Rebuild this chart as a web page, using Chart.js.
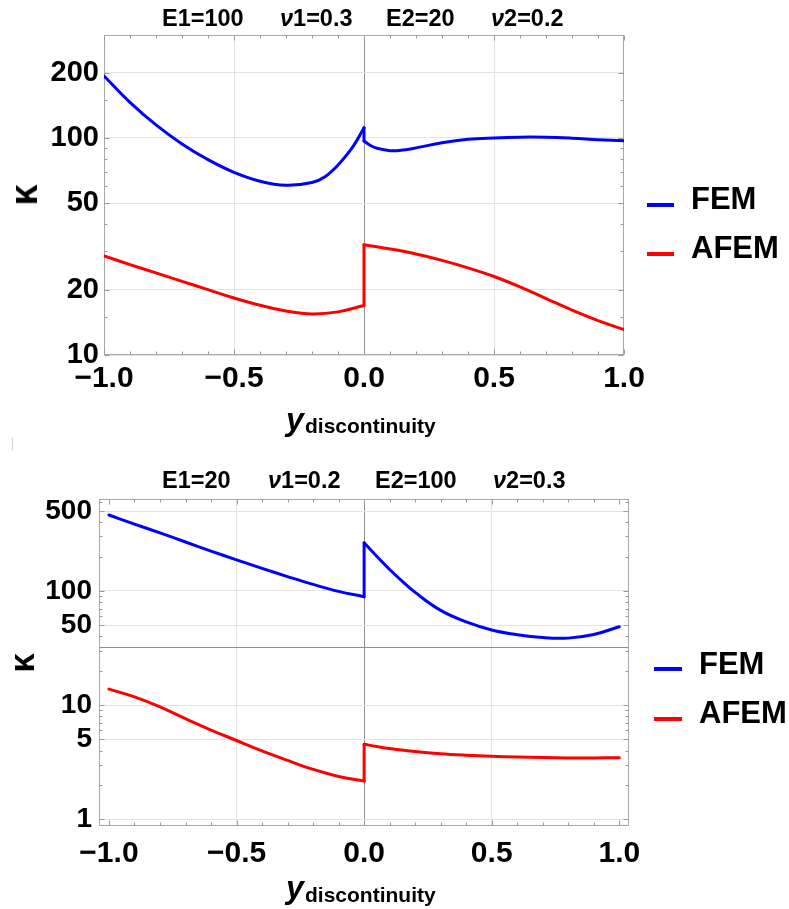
<!DOCTYPE html>
<html>
<head>
<meta charset="utf-8">
<script src="https://cdn.jsdelivr.net/npm/chart.js@4.4.1/dist/chart.umd.min.js"></script>
<style>
  html, body { margin: 0; padding: 0; background: #fff; }
  body { width: 789px; height: 909px; position: relative; overflow: hidden;
         font-family: "Liberation Sans", Arial, sans-serif; color: #000; }
  .box { position: absolute; left: 0; width: 789px; }
  .t { position: absolute; white-space: nowrap; font-weight: bold; line-height: 1; }
  .lg { position: absolute; height: 4px; }
</style>
</head>
<body>
<div class="box" style="top:0;height:460px"><canvas id="c1" width="789" height="460"></canvas></div>
<div class="box" style="top:460px;height:449px"><canvas id="c2" width="789" height="449"></canvas></div>

<!-- top chart annotations -->
<div class="t" style="left:162px;top:7px;font-size:23.5px">E1=100</div>
<div class="t" style="left:280px;top:7px;font-size:23.5px"><i>ν</i>1=0.3</div>
<div class="t" style="left:386px;top:7px;font-size:23.5px">E2=20</div>
<div class="t" style="left:491px;top:7px;font-size:23.5px"><i>ν</i>2=0.2</div>
<div class="t" style="left:24px;top:195px;font-size:38px;transform:translate(-50%,-50%) rotate(-90deg)">κ</div>
<div class="t" style="left:286px;top:403px;font-size:32px"><i>y</i></div>
<div class="t" style="left:305px;top:415px;font-size:21px">discontinuity</div>
<div class="lg" style="left:647px;width:27px;top:203px;background:#0000ff"></div>
<div class="t" style="left:691px;top:183px;font-size:31px">FEM</div>
<div class="lg" style="left:647px;width:27px;top:252px;background:#ff0000"></div>
<div class="t" style="left:691px;top:232px;font-size:31px">AFEM</div>
<div style="position:absolute;left:12px;top:438px;width:1px;height:12px;background:#d0d0d0"></div>

<!-- bottom chart annotations -->
<div class="t" style="left:162px;top:469px;font-size:23.5px">E1=20</div>
<div class="t" style="left:268px;top:469px;font-size:23.5px"><i>ν</i>1=0.2</div>
<div class="t" style="left:375px;top:469px;font-size:23.5px">E2=100</div>
<div class="t" style="left:493px;top:469px;font-size:23.5px"><i>ν</i>2=0.3</div>
<div class="t" style="left:21px;top:663px;font-size:35px;transform:translate(-50%,-50%) rotate(-90deg)">κ</div>
<div class="t" style="left:286px;top:871px;font-size:32px"><i>y</i></div>
<div class="t" style="left:305px;top:884px;font-size:21px">discontinuity</div>
<div class="lg" style="left:654px;width:28px;top:667px;background:#0000ff"></div>
<div class="t" style="left:699px;top:648px;font-size:31px">FEM</div>
<div class="lg" style="left:654px;width:28px;top:717px;background:#ff0000"></div>
<div class="t" style="left:699px;top:697px;font-size:31px">AFEM</div>

<script>
// ---------------- DATA ----------------
// Top chart: E1=100, v1=0.3 | E2=20, v2=0.2   (x = 0 appears twice: value just left / just right of the interface)
const topFemX  = [-1, -0.9, -0.8, -0.7, -0.6, -0.5, -0.4, -0.3, -0.2, -0.15, -0.1, -0.05, -0.025, 0,
                  0, 0.025, 0.05, 0.1, 0.15, 0.2, 0.3, 0.4, 0.5, 0.6, 0.7, 0.8, 0.9, 1];
const topFemY  = [193, 145.9, 114.8, 93.8, 79.4, 69.4, 63.2, 60.5, 62.3, 66.3, 75.0, 88.5, 98.5, 111.3,
                  96.7, 92.3, 89.6, 87.4, 88.0, 90.0, 95.0, 98.5, 100.0, 100.8, 100.7, 99.7, 98.2, 97.0];
const topAfemX = [-1, -0.9, -0.8, -0.7, -0.6, -0.5, -0.4, -0.3, -0.2, -0.1, 0,
                  0, 0.1, 0.2, 0.3, 0.4, 0.5, 0.6, 0.7, 0.8, 0.9, 1];
const topAfemY = [28.6, 26.1, 23.9, 21.85, 20.0, 18.3, 16.95, 15.95, 15.45, 15.8, 16.9,
                  32.2, 30.8, 29.2, 27.3, 25.2, 23.0, 20.6, 18.2, 16.1, 14.4, 13.1];

// Bottom chart: E1=20, v1=0.2 | E2=100, v2=0.3
const botFemX  = [-1, -0.9, -0.8, -0.7, -0.6, -0.5, -0.4, -0.3, -0.2, -0.1, 0,
                  0, 0.05, 0.1, 0.15, 0.2, 0.3, 0.4, 0.5, 0.6, 0.7, 0.8, 0.9, 1];
const botFemY  = [462, 385, 322, 268, 223, 187, 157.5, 133.5, 114, 99, 89,
                  264, 200, 154, 121, 97, 67.5, 53.5, 45.5, 41.3, 39.0, 38.6, 41.5, 48.6];
const botAfemX = [-1, -0.9, -0.8, -0.7, -0.6, -0.5, -0.4, -0.3, -0.2, -0.1, 0,
                  0, 0.05, 0.1, 0.2, 0.3, 0.4, 0.5, 0.6, 0.7, 0.8, 0.9, 1];
const botAfemY = [13.8, 11.8, 9.65, 7.6, 6.05, 4.9, 3.97, 3.28, 2.74, 2.37, 2.16,
                  4.54, 4.34, 4.17, 3.92, 3.75, 3.64, 3.56, 3.51, 3.47, 3.45, 3.45, 3.46];

// Tick labels
const xTicks       = [-1, -0.5, 0, 0.5, 1];
const xMinorTicks  = [-0.9,-0.8,-0.7,-0.6,-0.4,-0.3,-0.2,-0.1,0.1,0.2,0.3,0.4,0.6,0.7,0.8,0.9];
const topYTicks    = [10, 20, 50, 100, 200];
const topYMinor    = [15, 30, 40, 60, 70, 80, 90, 150];
const botYTicks    = [1, 5, 10, 50, 100, 500];
const botYMinor    = [2, 3, 4, 6, 7, 8, 9, 20, 30, 40, 60, 70, 80, 90, 200, 300, 400, 600];

// ---------------- RENDERING ----------------
const FONT = '"Liberation Sans", Arial, sans-serif';
Chart.defaults.font.family = FONT;
Chart.defaults.color = '#000';

const framePlugin = {
  id: 'frame',
  beforeDatasetsDraw(chart, args, o) {
    const {ctx, chartArea: a, scales: {x, y}} = chart;
    ctx.save();
    ctx.lineWidth = 1;
    const seg = (x1, y1, x2, y2) => { ctx.beginPath(); ctx.moveTo(x1, y1); ctx.lineTo(x2, y2); ctx.stroke(); };
    ctx.strokeStyle = '#8f8f8f';
    if (o.axisY != null) {
      const py = Math.round(y.getPixelForValue(o.axisY)) + 0.5;
      seg(a.left, py, a.right, py);
    }
    ctx.strokeStyle = '#a8a8a8';
    const L = Math.round(a.left) + 0.5, R = Math.round(a.right) - 0.5,
          T = Math.round(a.top) + 0.5, B = Math.round(a.bottom) - 0.5;
    ctx.strokeRect(L, T, R - L, B - T);
    ctx.strokeStyle = '#9a9a9a';
    const xt = (vals, len) => vals.forEach(v => {
      const p = Math.round(x.getPixelForValue(v)) + 0.5;
      seg(p, B, p, B - len); seg(p, T, p, T + len);
    });
    const yt = (vals, len) => vals.forEach(v => {
      const p = Math.round(y.getPixelForValue(v)) + 0.5;
      seg(L, p, L + len, p); seg(R, p, R - len, p);
    });
    xt(o.xMajor, 5); xt(o.xMinor, 3);
    yt(o.yMajor, 5); yt(o.yMinor, 3);
    ctx.restore();
  }
};

function fmtX(v) {
  return (v < 0 ? '\u2212' : '') + Math.abs(v).toFixed(1);
}

// split a series at the interface (the repeated x = 0) into left branch, jump, right branch
function splitSeries(xs, ys, color) {
  const pts = xs.map((x, i) => ({x, y: ys[i]}));
  let k = 1;
  while (k < xs.length && xs[k] !== xs[k - 1]) k++;
  const base = { borderColor: color, borderWidth: 3, pointRadius: 0, fill: false,
                 tension: 0.4, borderCapStyle: 'round', borderJoinStyle: 'round' };
  return [
    Object.assign({ data: pts.slice(0, k) }, base),
    Object.assign({ data: pts.slice(k - 1, k + 1) }, base, { tension: 0 }),
    Object.assign({ data: pts.slice(k) }, base)
  ];
}

function makeChart(id, cfg) {
  const datasets = [
    ...splitSeries(cfg.femX, cfg.femY, '#0000ff'),
    ...splitSeries(cfg.afemX, cfg.afemY, '#ff0000')
  ];
  return new Chart(document.getElementById(id), {
    type: 'line',
    data: { datasets },
    plugins: [framePlugin],
    options: {
      responsive: false, animation: false, devicePixelRatio: 1,
      layout: { padding: cfg.padding },
      plugins: {
        legend: { display: false }, tooltip: { enabled: false },
        frame: { axisY: cfg.axisY, xMajor: xTicks, xMinor: xMinorTicks,
                 yMajor: cfg.yTicks, yMinor: cfg.yMinor }
      },
      scales: {
        x: {
          type: 'linear', position: 'bottom', min: cfg.xMin, max: cfg.xMax,
          afterBuildTicks: s => { s.ticks = xTicks.map(v => ({value: v})); },
          afterFit: s => { s.height = cfg.xHeight; },
          border: { display: false },
          grid: { drawTicks: false, lineWidth: 1,
                  color: c => (c.tick && c.tick.value === 0) ? '#8f8f8f'
                              : (c.tick && Math.abs(c.tick.value) === 1) ? 'rgba(0,0,0,0)' : '#e4e4e4' },
          ticks: { autoSkip: false, maxRotation: 0, padding: cfg.xPad, color: '#000',
                   font: { family: FONT, size: 30, weight: 'bold' }, callback: v => fmtX(v) }
        },
        y: {
          type: 'logarithmic', position: 'left', min: cfg.yMin, max: cfg.yMax,
          afterBuildTicks: s => { s.ticks = cfg.yTicks.map(v => ({value: v})); },
          afterFit: s => { s.width = cfg.yWidth; },
          border: { display: false },
          grid: { drawTicks: false, lineWidth: 1, color: '#e4e4e4' },
          ticks: { autoSkip: false, padding: cfg.yPad, color: '#000',
                   font: { family: FONT, size: cfg.yFont, weight: 'bold' }, callback: v => String(v) }
        }
      }
    }
  });
}

makeChart('c1', {
  femX: topFemX, femY: topFemY, afemX: topAfemX, afemY: topAfemY,
  xMin: -1, xMax: 1, yMin: 10, yMax: 298,
  yTicks: topYTicks, yMinor: topYMinor, axisY: null,
  padding: { left: 0, top: 35, right: 165, bottom: 0 },
  xHeight: 105, yWidth: 104, xPad: 6, yPad: 5, yFont: 29
});

makeChart('c2', {
  femX: botFemX, femY: botFemY, afemX: botAfemX, afemY: botAfemY,
  xMin: -1.039, xMax: 1.038, yMin: 0.874, yMax: 638,
  yTicks: botYTicks, yMinor: botYMinor, axisY: 32,
  padding: { left: 0, top: 39, right: 160, bottom: 0 },
  xHeight: 83, yWidth: 99, xPad: 10, yPad: 7, yFont: 28
});
</script>
</body>
</html>
